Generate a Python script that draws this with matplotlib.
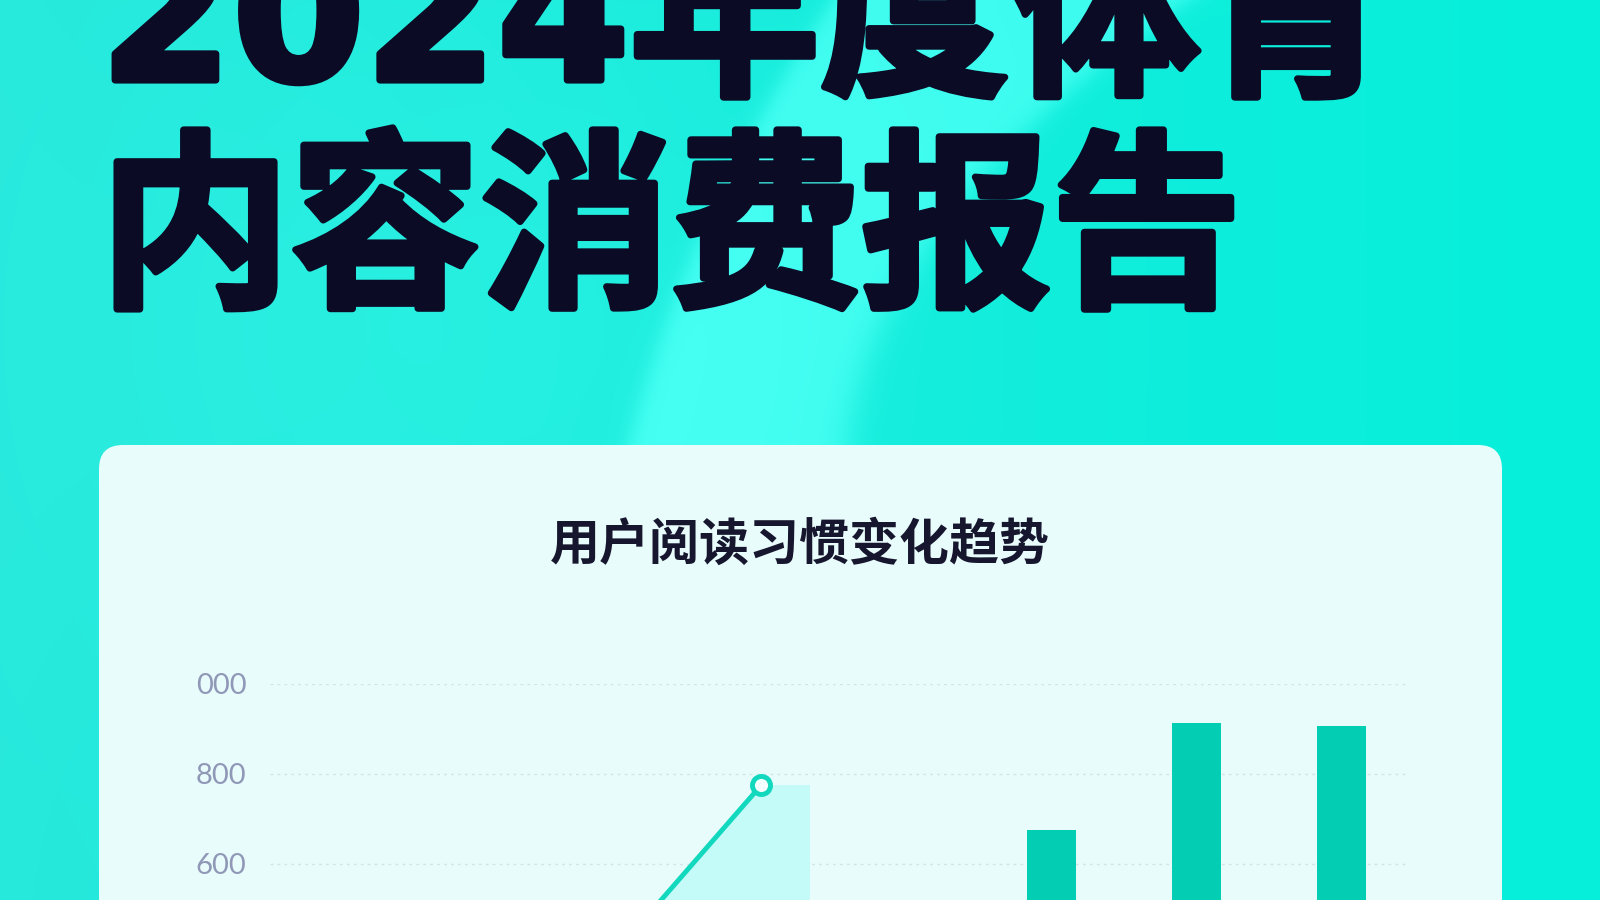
import numpy as np
import matplotlib
matplotlib.use("Agg")
import matplotlib.pyplot as plt
from matplotlib.patches import FancyBboxPatch
import matplotlib.patheffects as pe

plt.rcParams['font.family'] = ['Noto Sans CJK SC', 'DejaVu Sans']

# data
title_lines = ['2024年度体育', '内容消费报告']
chart_title = '用户阅读习惯变化趋势'
line_idx = [0, 1, 2, 3]
line_vals = [180, 290, 405, 775]
light_idx = [3]
light_vals = [775]
bar_idx = [5, 6, 7]
bar_vals = [675, 913, 907]
y_ticks = [600, 800, 1000]
y_labels = ['600', '800', '000']

W, H = 1600, 900
fig = plt.figure(figsize=(16, 9), dpi=100)

# background: aqua gradient with a lighter curved band
bg = fig.add_axes([0, 0, 1, 1])
yy, xx = np.mgrid[0:H, 0:W].astype(float)
left_c = np.array([0.15, 0.91, 0.86])
right_c = np.array([0.02, 0.94, 0.86])
t = (xx / W)[..., None]
img = left_c * (1 - t) + right_c * t
s = 443 - yy
xl = 629 + 0.25 * s + 0.00047 * s ** 2
xr = 848 + 0.10 * s + 0.0015 * s ** 2
band = 1 / (1 + np.exp(-(xx - xl) / 6)) * 1 / (1 + np.exp((xx - xr) / 10))
glow = np.exp(-((xx - 420) ** 2 + (yy - 330) ** 2) / 1.6e5) * 0.25
light = np.array([0.27, 1.0, 0.95])
w = np.clip(band * 0.85 + glow, 0, 1)[..., None]
img = img * (1 - w) + light * w
bg.imshow(img, extent=[0, W, H, 0], aspect='auto')
bg.set_xlim(0, W)
bg.set_ylim(H, 0)
bg.axis('off')

# big title (top line is cut by the top edge, as in the poster)
for i, txt in enumerate(title_lines):
    fig.text(100 / W, [0.911, 0.676][i], txt, fontsize=137, fontweight='heavy',
             color='#0b0b25', va='baseline', ha='left',
             family=['DejaVu Sans', 'Noto Sans CJK SC'],
             path_effects=[pe.withStroke(linewidth=5, foreground='#0b0b25')])

# card
card = FancyBboxPatch((99, 445), 1403, 520, boxstyle='round,pad=0,rounding_size=24',
                      facecolor='#e9fcfc', edgecolor='none', zorder=2)
bg.add_patch(card)

fig.text(800 / W, 1 - 545 / H, chart_title, fontsize=36, fontweight='bold',
         color='#16162e', ha='center', va='center')

# chart axes (runs on below the bottom edge of the figure)
ax = fig.add_axes([270 / W, (H - 1134) / H, (1408 - 270) / W, 450 / H])
ax.set_facecolor('none')
ax.set_ylim(0, 1000)
ax.set_xlim(-0.386, 7.46)

ax.fill_between(line_idx, line_vals, 0, color='#c4faf7', zorder=1, linewidth=0)
ax.bar(light_idx, light_vals, width=0.34, align='edge', color='#c4faf7', zorder=1)
ax.bar(bar_idx, bar_vals, width=0.34, color='#03cdb3', zorder=2)
ax.plot(line_idx, line_vals, color='#12d8be', lw=3.5, zorder=3,
        marker='o', ms=13, mfc='#f4ffff', mec='#12d8be', mew=3.5)

ax.set_yticks(y_ticks)
ax.set_yticklabels(y_labels)
ax.tick_params(axis='y', length=0, pad=17, labelsize=21, labelcolor='#8f98b6')
ax.set_xticks([])
for lbl in ax.get_yticklabels():
    lbl.set_fontfamily(['Lato', 'DejaVu Sans'])
ax.grid(axis='y', color='#d2e4e8', linestyle=(0, (2, 3)), lw=1)
ax.set_axisbelow(True)
for sp in ax.spines.values():
    sp.set_visible(False)

fig.savefig('out.png', dpi=100)
